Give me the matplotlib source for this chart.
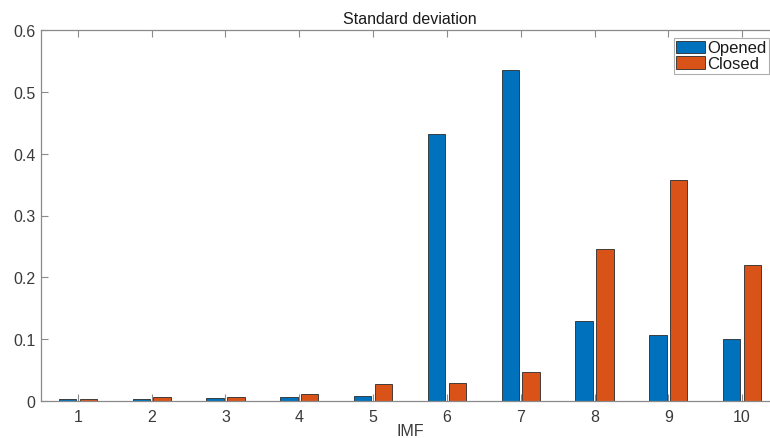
import matplotlib
matplotlib.use("Agg")
import matplotlib.pyplot as plt
import numpy as np

categories = [1, 2, 3, 4, 5, 6, 7, 8, 9, 10]
opened = [0.003, 0.003, 0.005, 0.006, 0.008, 0.432, 0.535, 0.129, 0.107, 0.101]
closed = [0.004, 0.006, 0.007, 0.012, 0.028, 0.029, 0.047, 0.246, 0.358, 0.220]
yticks = [0, 0.1, 0.2, 0.3, 0.4, 0.5, 0.6]
ytick_labels = ["0", "0.1", "0.2", "0.3", "0.4", "0.5", "0.6"]
xtick_labels = ["1", "2", "3", "4", "5", "6", "7", "8", "9", "10"]

plt.rcParams['font.family'] = ['Liberation Sans', 'DejaVu Sans']

W, H = 770, 439
fig = plt.figure(figsize=(W / 100, H / 100), dpi=100)
left, right, bottom, top = 41, 779, 402, 31
ax = fig.add_axes([left / W, 1 - bottom / H, (right - left) / W, (bottom - top) / H])

x = np.array(categories, dtype=float)
bw = 0.235
off = 0.14
ax.bar(x - off, opened, width=bw, color='#0072BD', edgecolor='#2a2a2a', linewidth=0.6, label='Opened')
ax.bar(x + off, closed, width=bw, color='#D95319', edgecolor='#2a2a2a', linewidth=0.6, label='Closed')

ax.set_xlim(0.5, 10.5)
ax.set_ylim(0, 0.6)
ax.set_xticks(x)
ax.set_xticklabels(xtick_labels)
ax.set_yticks(yticks)
ax.set_yticklabels(ytick_labels)

spine_c = '#8a8a8a'
for s in ax.spines.values():
    s.set_color(spine_c)
    s.set_linewidth(0.9)
ax.tick_params(axis='both', direction='in', length=5, width=0.8, color=spine_c,
               labelsize=11.5, labelcolor='#3a3a3a', top=True, right=True)
ax.tick_params(axis='x', pad=6)
ax.tick_params(axis='y', pad=4)

ax.set_title('Standard deviation', fontsize=11.5, color='#1a1a1a', pad=5)
ax.set_xlabel('IMF', fontsize=11.5, color='#3a3a3a', labelpad=-1)

leg = ax.legend(loc='upper right', bbox_to_anchor=(769 / W, 1 - 39 / H),
                bbox_transform=fig.transFigure, borderaxespad=0, fontsize=12,
                frameon=True, fancybox=False, handlelength=1.7, handleheight=0.75,
                handletextpad=0.15, borderpad=0.15, labelspacing=0.05)
leg.get_frame().set_edgecolor('#9a9a9a')
leg.get_frame().set_linewidth(0.8)
for t in leg.get_texts():
    t.set_color('#1a1a1a')

fig.savefig('out.png', dpi=100)
